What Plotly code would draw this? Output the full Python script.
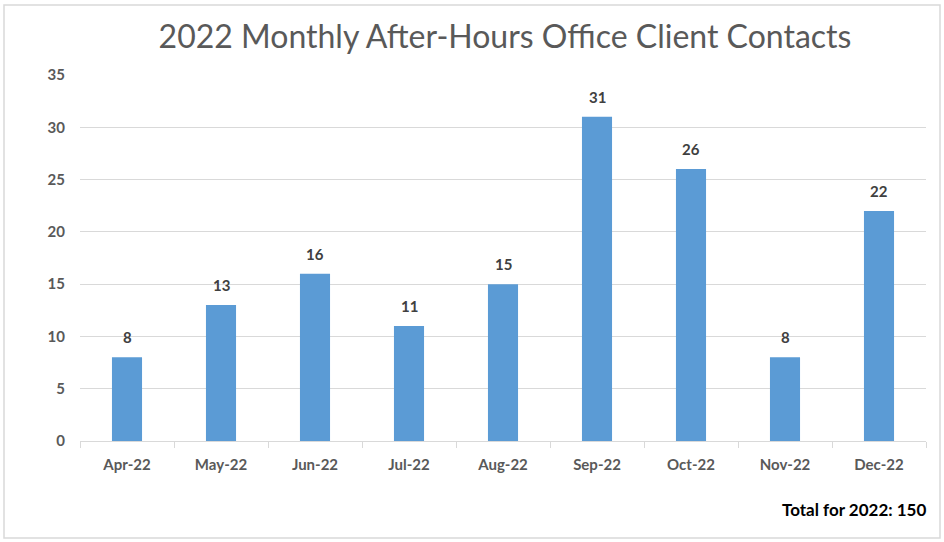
import plotly.graph_objects as go

months = ["Apr-22", "May-22", "Jun-22", "Jul-22", "Aug-22", "Sep-22", "Oct-22", "Nov-22", "Dec-22"]
contacts = [8, 13, 16, 11, 15, 31, 26, 8, 22]
title_text = "2022 Monthly After-Hours Office Client Contacts"
total_text = "Total for 2022: 150"
y_ticks = [0, 5, 10, 15, 20, 25, 30, 35]

W, H = 944, 542
L, R, T, B = 80, 18, 75, 101
pw, ph = W - L - R, H - T - B

font_fam = "Lato, Open Sans, sans-serif"

fig = go.Figure(go.Bar(
    x=months, y=contacts,
    marker=dict(color="#5B9BD5", line=dict(width=0)),
    width=0.32,
    hoverinfo="x+y",
))

for m, v in zip(months, contacts):
    fig.add_annotation(
        x=m, y=v, text=str(v), showarrow=False, yanchor="bottom", yshift=9,
        font=dict(family=font_fam, size=15, color="#404040", weight="bold"),
    )

fig.update_layout(
    width=W, height=H,
    margin=dict(l=L, r=R, t=T, b=B),
    plot_bgcolor="white", paper_bgcolor="white",
    showlegend=False,
    title=dict(text=title_text, x=(505 / W), xanchor="center", y=1 - 37 / H, yanchor="middle",
               font=dict(family=font_fam, size=32, color="#595959")),
    xaxis=dict(
        showgrid=False, showline=True, linecolor="#D9D9D9", linewidth=1,
        ticks="outside", tickson="boundaries", ticklen=6, tickcolor="#D9D9D9",
        ticklabelstandoff=10,
        tickfont=dict(family=font_fam, size=15, color="#595959", weight="bold"),
    ),
    yaxis=dict(
        range=[0, 35], tickvals=y_ticks, showgrid=True, gridcolor="#D9D9D9", gridwidth=1,
        zeroline=False, showline=False, ticks="", ticklabelstandoff=14,
        tickfont=dict(family=font_fam, size=15, color="#595959", weight="bold"),
    ),
    bargap=0.68,
    font=dict(family=font_fam),
)

fig.add_annotation(
    text=total_text, xref="paper", yref="paper",
    x=(928 - L) / pw, xanchor="right", y=(441 - 509) / ph, yanchor="middle",
    showarrow=False, font=dict(family=font_fam, size=17, color="#000000", weight="bold"),
)

fig.add_shape(
    type="rect", xref="paper", yref="paper",
    x0=(4 - L) / pw, x1=(940 - L) / pw, y0=(441 - 538) / ph, y1=(441 - 5) / ph,
    line=dict(color="#D9D9D9", width=1.5), fillcolor="rgba(0,0,0,0)", layer="below",
)

fig.write_html("out.html", config={"displayModeBar": False},
               post_script="document.body.style.margin='0';document.body.style.overflow='hidden';")
